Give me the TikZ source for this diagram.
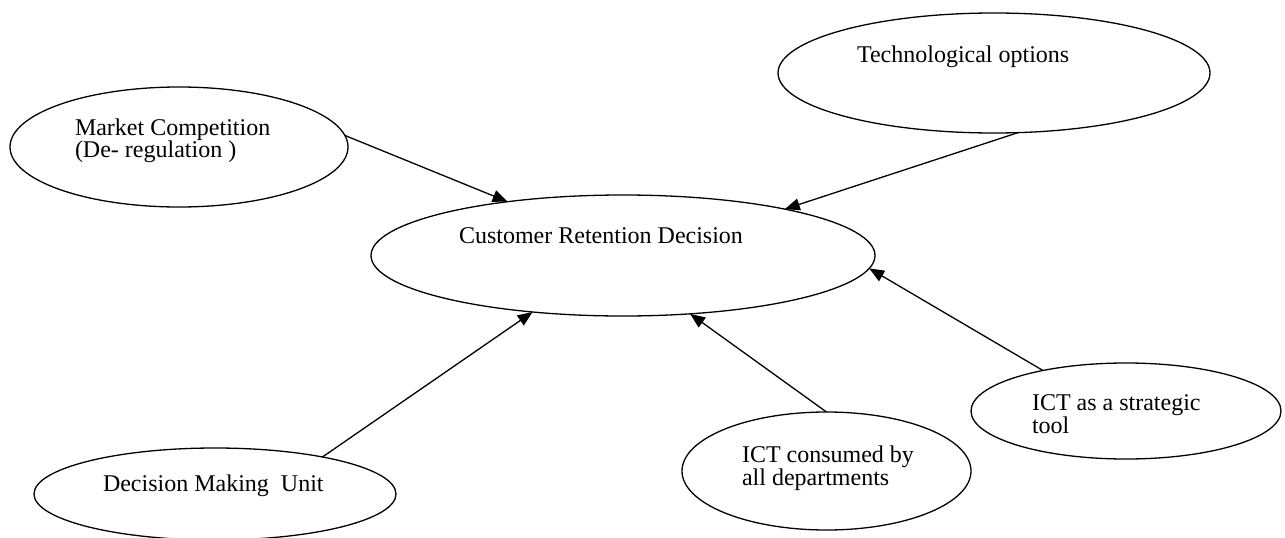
\documentclass[tikz,border=0pt]{standalone}
\usepackage{fontspec}
\setmainfont{Liberation Serif}
\usetikzlibrary{shapes.geometric,arrows.meta}
\begin{document}
\begin{tikzpicture}[x=1pt,y=-1pt,
  ell/.style={draw, ellipse, line width=1.3pt, inner sep=0pt, outer sep=0pt},
  lbl/.style={anchor=base west, inner sep=0pt, outer sep=0pt, font=\fontsize{24}{24}\selectfont},
  arr/.style={line width=1.3pt, -{Triangle[length=15pt,width=12pt]}}]
\useasboundingbox[fill=white] (0,0) rectangle (1285,538);
% ellipses
\node[ell, minimum width=338pt, minimum height=120pt] (mkt) at (179,147) {};
\node[ell, minimum width=432pt, minimum height=120pt] (tech) at (994,73) {};
\node[ell, minimum width=504pt, minimum height=121pt] (cust) at (623,255.5) {};
\node[ell, minimum width=362pt, minimum height=92pt] (dmu) at (215,494) {};
\node[ell, minimum width=289pt, minimum height=118pt] (ictc) at (826.5,471) {};
\node[ell, minimum width=310pt, minimum height=96pt] (icts) at (1126,411) {};
% texts
\node[lbl] (mktA) at (75,135) {Market Competition};
\node[lbl] (mktB) at (75,157) {(De- regulation )};
\node[lbl] (techA) at (857,62) {Technological options};
\node[lbl] (custA) at (459,243) {Customer Retention Decision};
\node[lbl] (dmuA) at (103,491) {Decision Making\ \ Unit};
\node[lbl] (ictcA) at (742,462) {ICT consumed by};
\node[lbl] (ictcB) at (742,485) {all departments};
\node[lbl] (ictsA) at (1032,410) {ICT as a strategic};
\node[lbl] (ictsB) at (1032,433) {tool};
% connectors
\draw[arr] (mkt.4) -- (cust.155.2);
\draw[arr] (tech.292) -- (cust.16.3);
\draw[arr] (dmu.19.6) -- (cust.212);
\draw[arr] (ictc.90) -- (cust.319);
\draw[arr] (icts.154) -- (cust.-3);
\end{tikzpicture}
\end{document}
